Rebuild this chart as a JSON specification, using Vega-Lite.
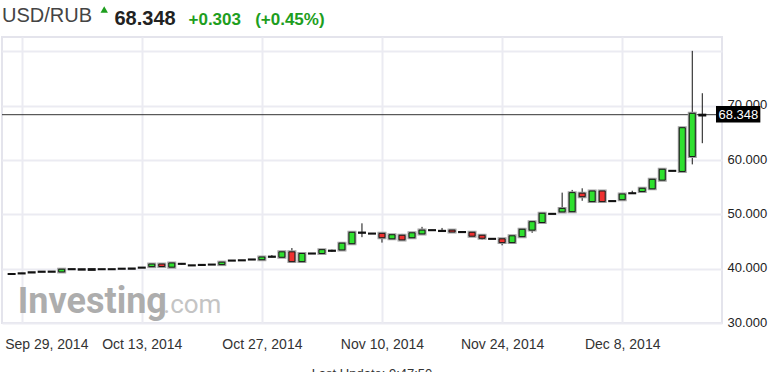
{
  "$schema": "https://vega.github.io/schema/vega-lite/v6.json",
  "width": 720,
  "height": 286,
  "autosize": {"type": "none"},
  "padding": {"left": 2, "top": 37, "right": 56, "bottom": 49},
  "background": "white",
  "config": {"view": {"stroke": "#e4e4ec", "strokeWidth": 2}, "font": "Liberation Sans"},
  "title": {"text": "USD/RUB", "anchor": "start", "frame": "group", "fontSize": 20, "fontWeight": "normal", "color": "#444444", "font": "Liberation Sans", "baseline": "alphabetic", "offset": 0, "dy": 36},
  "datasets": {
    "candles": [
      {"i": 0, "o": 39.00, "h": 39.08, "l": 38.95, "c": 39.02},
      {"i": 1, "o": 39.12, "h": 39.22, "l": 39.08, "c": 39.15},
      {"i": 2, "o": 39.28, "h": 39.40, "l": 39.22, "c": 39.32},
      {"i": 3, "o": 39.42, "h": 39.52, "l": 39.38, "c": 39.45},
      {"i": 4, "o": 39.43, "h": 39.52, "l": 39.38, "c": 39.46},
      {"i": 5, "o": 39.40, "h": 39.95, "l": 39.35, "c": 39.90},
      {"i": 6, "o": 39.90, "h": 39.95, "l": 39.85, "c": 39.92},
      {"i": 7, "o": 39.90, "h": 39.95, "l": 39.80, "c": 39.82},
      {"i": 8, "o": 39.78, "h": 39.95, "l": 39.75, "c": 39.92},
      {"i": 9, "o": 39.90, "h": 39.95, "l": 39.85, "c": 39.91},
      {"i": 10, "o": 39.90, "h": 39.95, "l": 39.85, "c": 39.91},
      {"i": 11, "o": 39.98, "h": 40.12, "l": 39.95, "c": 40.00},
      {"i": 12, "o": 40.00, "h": 40.05, "l": 39.95, "c": 40.02},
      {"i": 13, "o": 40.18, "h": 40.25, "l": 40.12, "c": 40.20},
      {"i": 14, "o": 40.38, "h": 40.90, "l": 40.35, "c": 40.85},
      {"i": 15, "o": 40.85, "h": 40.90, "l": 40.35, "c": 40.40},
      {"i": 16, "o": 40.28, "h": 41.10, "l": 40.20, "c": 41.05},
      {"i": 17, "o": 40.88, "h": 41.05, "l": 40.75, "c": 40.90},
      {"i": 18, "o": 40.60, "h": 40.65, "l": 40.55, "c": 40.62},
      {"i": 19, "o": 40.68, "h": 40.85, "l": 40.60, "c": 40.70},
      {"i": 20, "o": 40.75, "h": 40.80, "l": 40.70, "c": 40.76},
      {"i": 21, "o": 40.75, "h": 41.25, "l": 40.72, "c": 41.20},
      {"i": 22, "o": 41.48, "h": 41.55, "l": 41.45, "c": 41.50},
      {"i": 23, "o": 41.53, "h": 41.60, "l": 41.50, "c": 41.55},
      {"i": 24, "o": 41.68, "h": 41.75, "l": 41.65, "c": 41.70},
      {"i": 25, "o": 41.65, "h": 42.20, "l": 41.60, "c": 42.15},
      {"i": 26, "o": 42.18, "h": 42.50, "l": 42.10, "c": 42.22},
      {"i": 27, "o": 42.10, "h": 43.15, "l": 42.05, "c": 43.10},
      {"i": 28, "o": 43.10, "h": 43.80, "l": 41.10, "c": 41.30},
      {"i": 29, "o": 41.30, "h": 43.05, "l": 41.10, "c": 42.80},
      {"i": 30, "o": 42.78, "h": 42.85, "l": 42.75, "c": 42.80},
      {"i": 31, "o": 42.80, "h": 43.55, "l": 42.75, "c": 43.50},
      {"i": 32, "o": 43.28, "h": 43.50, "l": 43.10, "c": 43.32},
      {"i": 33, "o": 43.45, "h": 44.90, "l": 43.30, "c": 44.70},
      {"i": 34, "o": 44.60, "h": 46.75, "l": 44.55, "c": 46.70},
      {"i": 35, "o": 46.60, "h": 48.35, "l": 45.80, "c": 46.65},
      {"i": 36, "o": 46.45, "h": 46.50, "l": 46.40, "c": 46.47},
      {"i": 37, "o": 46.50, "h": 46.55, "l": 44.80, "c": 45.70},
      {"i": 38, "o": 45.50, "h": 46.40, "l": 45.40, "c": 46.25},
      {"i": 39, "o": 46.15, "h": 46.40, "l": 45.25, "c": 45.30},
      {"i": 40, "o": 45.70, "h": 46.65, "l": 45.65, "c": 46.60},
      {"i": 41, "o": 46.40, "h": 47.70, "l": 46.35, "c": 47.10},
      {"i": 42, "o": 47.08, "h": 47.15, "l": 47.05, "c": 47.10},
      {"i": 43, "o": 46.93, "h": 47.50, "l": 46.85, "c": 46.97},
      {"i": 44, "o": 47.10, "h": 47.20, "l": 46.70, "c": 46.75},
      {"i": 45, "o": 46.73, "h": 46.78, "l": 46.70, "c": 46.75},
      {"i": 46, "o": 46.70, "h": 46.75, "l": 45.95, "c": 45.98},
      {"i": 47, "o": 46.15, "h": 46.20, "l": 45.30, "c": 45.60},
      {"i": 48, "o": 45.48, "h": 45.55, "l": 45.45, "c": 45.50},
      {"i": 49, "o": 45.50, "h": 45.55, "l": 44.30, "c": 44.80},
      {"i": 50, "o": 44.80, "h": 46.10, "l": 44.70, "c": 46.05},
      {"i": 51, "o": 45.90, "h": 47.30, "l": 45.85, "c": 47.25},
      {"i": 52, "o": 47.10, "h": 48.70, "l": 46.60, "c": 48.65},
      {"i": 53, "o": 48.50, "h": 50.25, "l": 48.45, "c": 50.20},
      {"i": 54, "o": 50.08, "h": 50.15, "l": 50.05, "c": 50.10},
      {"i": 55, "o": 50.45, "h": 54.00, "l": 50.40, "c": 51.10},
      {"i": 56, "o": 50.50, "h": 54.50, "l": 50.45, "c": 54.00},
      {"i": 57, "o": 53.90, "h": 54.80, "l": 52.50, "c": 53.25},
      {"i": 58, "o": 52.35, "h": 54.35, "l": 52.30, "c": 54.30},
      {"i": 59, "o": 54.30, "h": 54.35, "l": 52.30, "c": 52.35},
      {"i": 60, "o": 52.43, "h": 52.50, "l": 52.40, "c": 52.45},
      {"i": 61, "o": 52.70, "h": 53.80, "l": 52.65, "c": 53.75},
      {"i": 62, "o": 53.88, "h": 54.35, "l": 53.85, "c": 53.90},
      {"i": 63, "o": 54.20, "h": 54.85, "l": 54.00, "c": 54.80},
      {"i": 64, "o": 54.70, "h": 56.50, "l": 54.65, "c": 56.45},
      {"i": 65, "o": 56.30, "h": 58.50, "l": 56.20, "c": 58.30},
      {"i": 66, "o": 58.00, "h": 58.05, "l": 57.95, "c": 58.02},
      {"i": 67, "o": 57.90, "h": 66.00, "l": 57.85, "c": 65.95},
      {"i": 68, "o": 60.65, "h": 80.10, "l": 59.20, "c": 68.60},
      {"i": 69, "o": 68.20, "h": 72.30, "l": 63.10, "c": 68.348}
    ],
    "last": [{"p": 68.348, "t": "68.348"}],
    "brand": [{"t": "Investing", "s": ".com"}],
    "note": [{"t": "Last Update: 9:47:50"}],
    "arrow": [{"d": "up"}]
  },
  "layer": [
    {
      "data": {"name": "brand"},
      "mark": {"type": "text", "align": "left", "baseline": "alphabetic", "font": "Roboto", "fontWeight": "bold", "fontSize": 36, "color": "#adadad"},
      "encoding": {
        "x": {"datum": 0.62, "type": "quantitative", "scale": {"domain": [-0.463, 70.47], "nice": false, "zero": false},
          "axis": {"values": [1, 13, 25, 37, 49, 61],
            "labelExpr": "datum.value==1?'Sep 29, 2014':datum.value==13?'Oct 13, 2014':datum.value==25?'Oct 27, 2014':datum.value==37?'Nov 10, 2014':datum.value==49?'Nov 24, 2014':'Dec 8, 2014'",
            "grid": true, "gridColor": "#ebebf2", "gridWidth": 2, "domain": false, "ticks": false,
            "labelPadding": 14, "labelFontSize": 14, "labelFont": "Liberation Sans", "labelColor": "#333333",
            "labelAlign": {"condition": {"test": "datum.value == 1", "value": "left"}, "value": "center"},
            "labelOffset": {"condition": {"test": "datum.value == 1", "value": -17}, "value": 0},
            "title": "+0.303\u00a0\u00a0\u00a0(+0.45%)", "titleX": 186, "titleY": -299, "titleAlign": "left", "titleAnchor": "start", "titleBaseline": "alphabetic",
            "titleFontSize": 17, "titleFontWeight": "bold", "titleColor": "#1e9e1e", "titleFont": "Liberation Sans", "zindex": 0}},
        "y": {"datum": 31.84, "type": "quantitative", "scale": {"domain": [30, 82.65], "nice": false, "zero": false},
          "axis": {"orient": "right", "values": [30, 40, 50, 60, 70, 80],
            "labelExpr": "datum.value < 80 ? format(datum.value, '.3f') : ''",
            "grid": true, "gridColor": "#ebebf2", "gridWidth": 2, "domain": false, "ticks": false,
            "labelPadding": 5, "labelAlign": "left", "labelBaseline": "middle", "labelOffset": -1,
            "labelFontSize": 13, "labelFont": "Liberation Sans", "labelColor": "#222222",
            "title": "68.348", "titleX": -608, "titleY": -13, "titleAngle": 0, "titleAlign": "left", "titleBaseline": "alphabetic",
            "titleFontSize": 20, "titleFontWeight": "bold", "titleColor": "#222222", "titleFont": "Liberation Sans", "zindex": 0}},
        "text": {"field": "t"}
      }
    },
    {
      "data": {"name": "brand"},
      "mark": {"type": "text", "align": "left", "baseline": "alphabetic", "font": "Roboto", "fontWeight": "normal", "fontSize": 26, "color": "#c4c4c4"},
      "encoding": {
        "x": {"datum": 15.15, "type": "quantitative"},
        "y": {"datum": 31.84, "type": "quantitative"},
        "text": {"field": "s"}
      }
    },
    {
      "data": {"name": "arrow"},
      "mark": {"type": "point", "shape": "triangle-up", "filled": true, "size": 55, "color": "#1e9e1e", "opacity": 1},
      "encoding": {
        "x": {"datum": 9.25, "type": "quantitative"},
        "y": {"datum": 87.7, "type": "quantitative"}
      }
    },
    {
      "data": {"name": "note"},
      "mark": {"type": "text", "align": "center", "baseline": "alphabetic", "font": "Liberation Sans", "fontSize": 13, "color": "#333333"},
      "encoding": {
        "x": {"datum": 36, "type": "quantitative"},
        "y": {"datum": 19.9, "type": "quantitative"},
        "text": {"field": "t"}
      }
    },
    {
      "data": {"name": "last"},
      "mark": {"type": "rule", "color": "#333333", "strokeWidth": 1},
      "encoding": {"y": {"field": "p", "type": "quantitative"}}
    },
    {
      "data": {"name": "candles"},
      "mark": {"type": "rule", "color": "#111111", "strokeWidth": 1},
      "encoding": {
        "x": {"field": "i", "type": "quantitative"},
        "y": {"field": "l", "type": "quantitative"},
        "y2": {"field": "h"}
      }
    },
    {
      "data": {"name": "candles"},
      "transform": [{"filter": "abs(datum.c - datum.o) > 0.2"}],
      "mark": {"type": "bar", "size": 6, "fill": "#a0a0a0", "stroke": "#a0a0a0", "strokeWidth": 3},
      "encoding": {
        "x": {"field": "i", "type": "quantitative"},
        "y": {"field": "o", "type": "quantitative"},
        "y2": {"field": "c"}
      }
    },
    {
      "data": {"name": "candles"},
      "transform": [{"filter": "abs(datum.c - datum.o) > 0.2"}],
      "mark": {"type": "bar", "size": 6, "stroke": "#1a1a1a", "strokeWidth": 1},
      "encoding": {
        "x": {"field": "i", "type": "quantitative"},
        "y": {"field": "o", "type": "quantitative"},
        "y2": {"field": "c"},
        "fill": {"condition": {"test": "datum.c >= datum.o", "value": "#2fe02f"}, "value": "#ee3030"}
      }
    },
    {
      "data": {"name": "candles"},
      "transform": [{"filter": "abs(datum.c - datum.o) <= 0.2"}],
      "mark": {"type": "bar", "size": 6, "stroke": "#111111", "strokeWidth": 2},
      "encoding": {
        "x": {"field": "i", "type": "quantitative"},
        "y": {"field": "o", "type": "quantitative"},
        "y2": {"field": "c"},
        "fill": {"value": "#111111"}
      }
    },
    {
      "data": {"name": "last"},
      "mark": {"type": "rect", "color": "#000000"},
      "encoding": {
        "x": {"datum": 70.37, "type": "quantitative"},
        "x2": {"datum": 74.8},
        "y": {"datum": 69.95, "type": "quantitative"},
        "y2": {"datum": 66.91}
      }
    },
    {
      "data": {"name": "last"},
      "mark": {"type": "text", "align": "center", "baseline": "middle", "font": "Liberation Sans", "fontSize": 13, "color": "#ffffff"},
      "encoding": {
        "x": {"datum": 72.6, "type": "quantitative"},
        "y": {"field": "p", "type": "quantitative"},
        "text": {"field": "t"}
      }
    }
  ]
}
